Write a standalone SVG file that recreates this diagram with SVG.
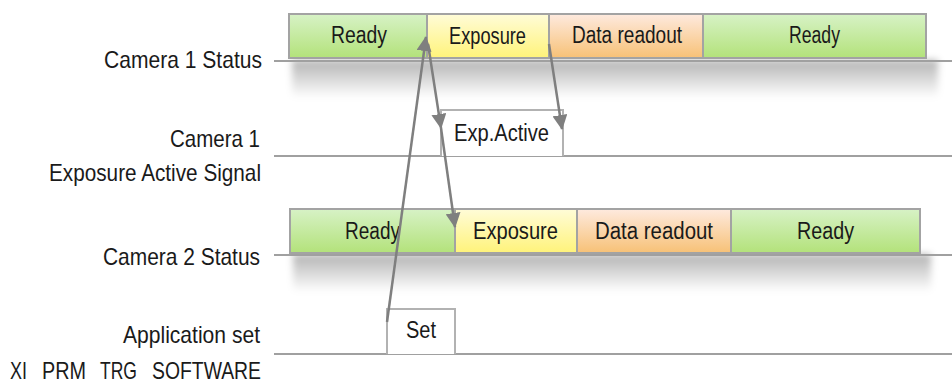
<svg xmlns="http://www.w3.org/2000/svg" width="952" height="383" viewBox="0 0 952 383">
<style>
.lbl{font-family:"Liberation Sans",Arial,sans-serif;font-size:24px;fill:#1a1a1a}
.btx{font-family:"Liberation Sans",Arial,sans-serif;font-size:23px;fill:#1a1a1a}
.seg{stroke:#a3a3a3;stroke-width:2}
.tl{stroke:#a0a0a0;stroke-width:2;fill:none}
.box{stroke:#b2b2b2;stroke-width:2;fill:#fff}
.arr{stroke:#7f7f7f;stroke-width:2.5;fill:none;marker-end:url(#ah)}
</style>
<defs>
<linearGradient id="gG" x1="0" y1="0" x2="0" y2="1"><stop offset="0" stop-color="#d7f2c6"/><stop offset="1" stop-color="#b3e27a"/></linearGradient>
<linearGradient id="gY" x1="0" y1="0" x2="0" y2="1"><stop offset="0" stop-color="#fffcd8"/><stop offset="1" stop-color="#fff37a"/></linearGradient>
<linearGradient id="gO" x1="0" y1="0" x2="0" y2="1"><stop offset="0" stop-color="#feeadf"/><stop offset="1" stop-color="#f7c176"/></linearGradient>
<linearGradient id="gS" x1="0" y1="0" x2="0" y2="1"><stop offset="0" stop-color="#000" stop-opacity="0.3"/><stop offset="1" stop-color="#000" stop-opacity="0"/></linearGradient>
<filter id="bl" x="-10%" y="-50%" width="120%" height="200%"><feGaussianBlur stdDeviation="3.5"/></filter>
<marker id="ah" markerUnits="userSpaceOnUse" markerWidth="15" markerHeight="15" viewBox="0 0 15 15" refX="14" refY="7.5" orient="auto"><path d="M0,0 L15,7.5 L0,15 z" fill="#7f7f7f"/></marker>
</defs>

<g id="shadows">
<rect x="292" y="60" width="646" height="38" fill="url(#gS)" filter="url(#bl)"/>
<rect x="293" y="254" width="638" height="38" fill="url(#gS)" filter="url(#bl)"/>
</g>

<g id="timelines">
<line class="tl" x1="274" y1="61" x2="952" y2="61"/>
<line class="tl" x1="274" y1="156" x2="952" y2="156"/>
<line class="tl" x1="274" y1="255" x2="952" y2="255"/>
<line class="tl" x1="274" y1="354" x2="952" y2="354"/>
</g>

<g id="labels">
<text class="lbl" x="104" y="68" textLength="158" lengthAdjust="spacingAndGlyphs">Camera 1 Status</text>
<text class="lbl" x="170" y="147" textLength="90" lengthAdjust="spacingAndGlyphs">Camera 1</text>
<text class="lbl" x="49" y="181" textLength="212" lengthAdjust="spacingAndGlyphs">Exposure Active Signal</text>
<text class="lbl" x="103" y="265" textLength="157" lengthAdjust="spacingAndGlyphs">Camera 2 Status</text>
<text class="lbl" x="123" y="343" textLength="137" lengthAdjust="spacingAndGlyphs">Application set</text>
<g id="trg-label">
<text class="lbl" x="10" y="379" textLength="17" lengthAdjust="spacingAndGlyphs">XI</text>
<text class="lbl" x="42" y="379" textLength="44" lengthAdjust="spacingAndGlyphs">PRM</text>
<text class="lbl" x="100" y="379" textLength="37" lengthAdjust="spacingAndGlyphs">TRG</text>
<text class="lbl" x="152" y="379" textLength="109" lengthAdjust="spacingAndGlyphs">SOFTWARE</text>
</g>
</g>

<g id="cam1-status">
<rect class="seg" x="289" y="14" width="138" height="44" fill="url(#gG)"/>
<rect class="seg" x="427" y="14" width="122" height="44" fill="url(#gY)"/>
<rect class="seg" x="549" y="14" width="154" height="44" fill="url(#gO)"/>
<rect class="seg" x="703" y="14" width="223" height="44" fill="url(#gG)"/>
<text class="btx" x="331" y="43" textLength="56" lengthAdjust="spacingAndGlyphs">Ready</text>
<text class="btx" x="449" y="44" textLength="77" lengthAdjust="spacingAndGlyphs">Exposure</text>
<text class="btx" x="572" y="43" textLength="110" lengthAdjust="spacingAndGlyphs">Data readout</text>
<text class="btx" x="789" y="43" textLength="51" lengthAdjust="spacingAndGlyphs">Ready</text>
</g>

<g id="cam1-exp-active">
<path class="box" d="M441,156 V110 H563 V156"/>
<text class="btx" x="454" y="141" textLength="95" lengthAdjust="spacingAndGlyphs">Exp.Active</text>
</g>

<g id="cam2-status">
<rect class="seg" x="290" y="209" width="165" height="44" fill="url(#gG)"/>
<rect class="seg" x="455" y="209" width="122" height="44" fill="url(#gY)"/>
<rect class="seg" x="577" y="209" width="154" height="44" fill="url(#gO)"/>
<rect class="seg" x="731" y="209" width="189" height="44" fill="url(#gG)"/>
<text class="btx" x="345" y="239" textLength="55" lengthAdjust="spacingAndGlyphs">Ready</text>
<text class="btx" x="473" y="239" textLength="85" lengthAdjust="spacingAndGlyphs">Exposure</text>
<text class="btx" x="595" y="239" textLength="118" lengthAdjust="spacingAndGlyphs">Data readout</text>
<text class="btx" x="797" y="239" textLength="57" lengthAdjust="spacingAndGlyphs">Ready</text>
</g>

<g id="app-set">
<path class="box" d="M387,354 V309 H455 V354"/>
<text class="btx" x="406" y="338" textLength="30" lengthAdjust="spacingAndGlyphs">Set</text>
</g>

<g id="connectors">
<line class="arr" x1="387" y1="322" x2="426" y2="37"/>
<line class="arr" x1="428" y1="44" x2="441" y2="128"/>
<line class="arr" x1="441" y1="128" x2="455" y2="227"/>
<line class="arr" x1="549" y1="44" x2="562" y2="129"/>
</g>
</svg>
